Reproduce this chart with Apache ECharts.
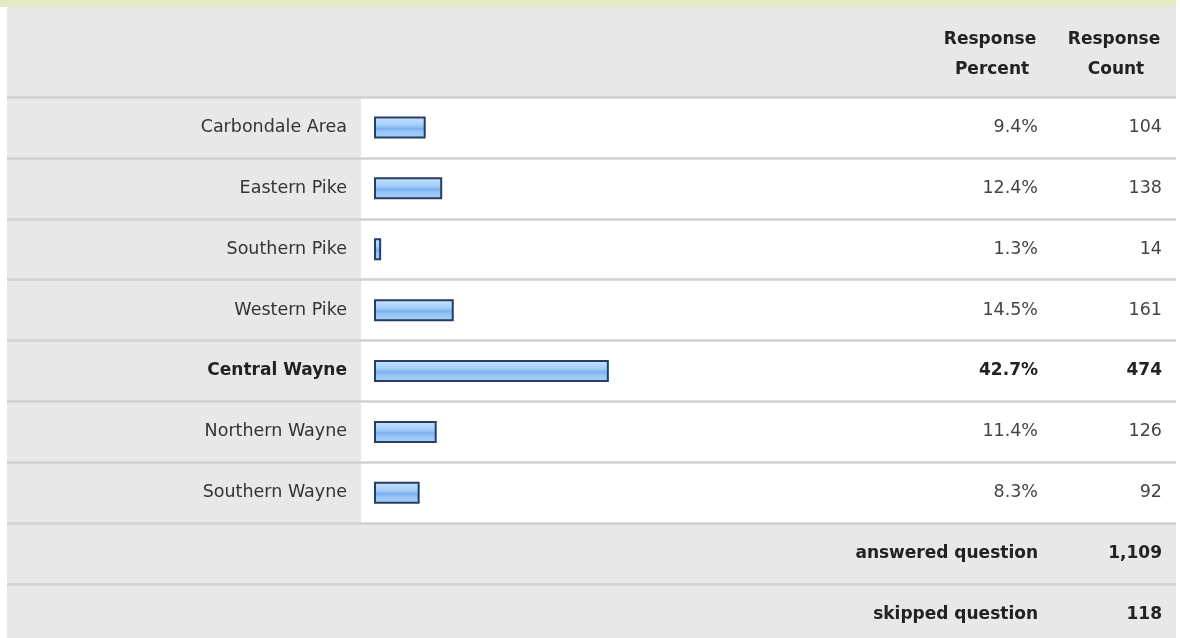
<!DOCTYPE html>
<html>
<head>
<meta charset="utf-8">
<script src="https://cdn.jsdelivr.net/npm/echarts@6/dist/echarts.min.js"></script>
<style>
html,body{margin:0;padding:0;background:#fff;}
#chart{width:1180px;height:638px;}
</style>
</head>
<body>
<div id="chart"></div>
<script>
var categories = ['Carbondale Area', 'Eastern Pike', 'Southern Pike', 'Western Pike', 'Central Wayne', 'Northern Wayne', 'Southern Wayne'];
var percents = [9.4, 12.4, 1.3, 14.5, 42.7, 11.4, 8.3];
var counts = [104, 138, 14, 161, 474, 126, 92];
var headerPercent = ['Response', 'Percent'];
var headerCount = ['Response', 'Count'];
var summaryLabels = ['answered question', 'skipped question'];
var summaryCounts = [1109, 118];

var FONT = 'DejaVu Sans';
var FS = 17.5;
var FSB = 17;
var maxIdx = percents.indexOf(Math.max.apply(null, percents));

var ROW = 60.9;
var TOP = 97;
var tableRows = categories.concat(summaryLabels);

function fmtCount(n) { return n.toLocaleString('en-US'); }

var chart = echarts.init(document.getElementById('chart'), null, {renderer: 'canvas'});

var barGradient = new echarts.graphic.LinearGradient(0, 0, 0, 1, [
  {offset: 0, color: '#cbe4fd'},
  {offset: 0.4, color: '#a3cdf9'},
  {offset: 0.55, color: '#7cb1ee'},
  {offset: 0.68, color: '#95c4f5'},
  {offset: 1, color: '#a9d2fb'}
]);

var headFont = 'bold 17px "DejaVu Sans"';

var option = {
  animation: false,
  backgroundColor: '#ffffff',
  textStyle: {fontFamily: FONT},
  graphic: [
    {type: 'rect', z: -10, shape: {x: 0, y: 0, width: 1176, height: 7}, style: {fill: '#e6ebc3'}},
    {type: 'rect', z: -10, shape: {x: 7, y: 7, width: 1169, height: 640}, style: {fill: '#e8e8e8'}},
    {type: 'rect', z: -9, shape: {x: 361, y: TOP, width: 815, height: ROW * categories.length}, style: {fill: '#ffffff'}},
    {type: 'text', z: 5, style: {text: headerPercent[0], x: 990, y: 40, align: 'center', verticalAlign: 'middle', font: headFont, fill: '#222'}},
    {type: 'text', z: 5, style: {text: headerPercent[1], x: 992, y: 70, align: 'center', verticalAlign: 'middle', font: headFont, fill: '#222'}},
    {type: 'text', z: 5, style: {text: headerCount[0], x: 1114, y: 40, align: 'center', verticalAlign: 'middle', font: headFont, fill: '#222'}},
    {type: 'text', z: 5, style: {text: headerCount[1], x: 1116, y: 70, align: 'center', verticalAlign: 'middle', font: headFont, fill: '#222'}}
  ],
  grid: [
    {left: 374, top: TOP, width: 550, height: ROW * categories.length, containLabel: false, outerBoundsMode: 'none'},
    {left: 7, top: TOP, width: 1169, height: ROW * tableRows.length, containLabel: false, outerBoundsMode: 'none'}
  ],
  xAxis: [
    {gridIndex: 0, type: 'value', min: 0, max: 100, show: false},
    {gridIndex: 1, type: 'value', min: 0, max: 1, show: false}
  ],
  yAxis: [
    {
      gridIndex: 0, type: 'category', data: categories, inverse: true,
      axisLine: {show: false}, axisTick: {show: false}, splitLine: {show: false},
      axisLabel: {
        margin: 27, fontSize: FS, color: '#333', fontFamily: FONT,
        formatter: function (v, i) { return i === maxIdx ? '{b|' + v + '}' : v; },
        rich: {b: {fontWeight: 'bold', fontSize: FSB, color: '#222', fontFamily: FONT}}
      }
    },
    {
      gridIndex: 1, type: 'category', data: tableRows, inverse: true, position: 'right',
      axisLine: {show: false}, axisTick: {show: false},
      splitLine: {show: true, interval: 0, lineStyle: {color: '#d1d1d1', width: 2.5}},
      axisLabel: {
        inside: true, margin: 138, align: 'right', fontSize: FS, color: '#444', fontFamily: FONT, interval: 0,
        formatter: function (v, i) {
          if (i < percents.length) {
            var t = percents[i].toFixed(1) + '%';
            return i === maxIdx ? '{b|' + t + '}' : t;
          }
          return '{b|' + v + '}';
        },
        rich: {b: {fontWeight: 'bold', fontSize: FSB, color: '#222', fontFamily: FONT}}
      }
    },
    {
      gridIndex: 1, type: 'category', data: tableRows, inverse: true, position: 'right',
      axisLine: {show: false}, axisTick: {show: false}, splitLine: {show: false},
      axisLabel: {
        inside: true, margin: 14, align: 'right', fontSize: FS, color: '#444', fontFamily: FONT, interval: 0,
        formatter: function (v, i) {
          if (i < counts.length) {
            var t = fmtCount(counts[i]);
            return i === maxIdx ? '{b|' + t + '}' : t;
          }
          return '{b|' + fmtCount(summaryCounts[i - counts.length]) + '}';
        },
        rich: {b: {fontWeight: 'bold', fontSize: FSB, color: '#222', fontFamily: FONT}}
      }
    }
  ],
  series: [
    {
      type: 'bar', xAxisIndex: 0, yAxisIndex: 0, data: percents, barWidth: 22,
      itemStyle: {color: barGradient, borderColor: '#263f60', borderWidth: 2},
      silent: true
    }
  ]
};
chart.setOption(option);
</script>
</body>
</html>
